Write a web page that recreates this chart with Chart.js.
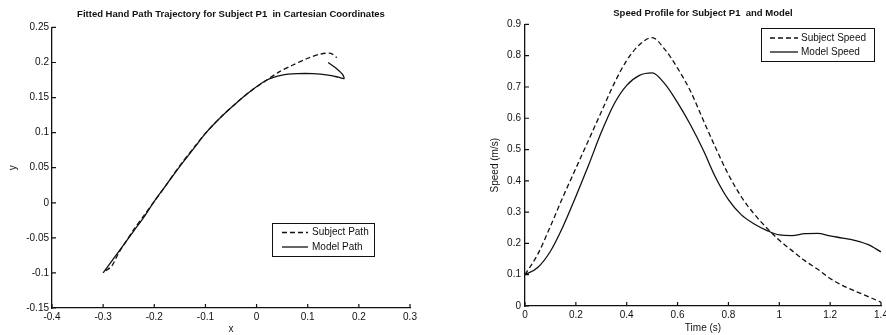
<!DOCTYPE html>
<html>
<head>
<meta charset="utf-8">
<script src="https://cdn.jsdelivr.net/npm/chart.js@4/dist/chart.umd.min.js"></script>
<style>
  html, body { margin: 0; padding: 0; background: #fff; overflow: hidden; }
  body { width: 886px; height: 335px; position: relative; }
  canvas { position: absolute; top: 0; }
  #pathChart { left: 0; }
  #speedChart { left: 443px; }
</style>
</head>
<body>
<canvas id="pathChart" width="443" height="335"></canvas>
<canvas id="speedChart" width="452" height="335"></canvas>
<script>
// hand path (x, y in metres)
const subjectPathX = [-0.295, -0.283, -0.27, -0.255, -0.24, -0.22, -0.2, -0.18, -0.15, -0.12, -0.1, -0.07, -0.04, -0.01, 0.02, 0.045, 0.07, 0.1, 0.125, 0.145, 0.157];
const subjectPathY = [-0.097, -0.09, -0.072, -0.055, -0.038, -0.018, 0.002, 0.022, 0.053, 0.081, 0.099, 0.122, 0.142, 0.16, 0.175, 0.187, 0.196, 0.206, 0.212, 0.213, 0.207];
const modelPathX = [-0.3, -0.28, -0.26, -0.24, -0.22, -0.2, -0.18, -0.15, -0.12, -0.1, -0.07, -0.04, -0.01, 0.02, 0.05, 0.08, 0.11, 0.14, 0.16, 0.171, 0.168, 0.155, 0.14];
const modelPathY = [-0.1, -0.08, -0.06, -0.04, -0.02, 0.002, 0.022, 0.052, 0.08, 0.099, 0.122, 0.142, 0.16, 0.175, 0.182, 0.184, 0.184, 0.182, 0.179, 0.177, 0.183, 0.192, 0.2];

// speed profile
const timeS = [0, 0.05, 0.1, 0.15, 0.2, 0.25, 0.3, 0.35, 0.4, 0.45, 0.5, 0.55, 0.6, 0.65, 0.7,
               0.75, 0.8, 0.85, 0.9, 0.95, 1.0, 1.05, 1.1, 1.15, 1.2, 1.25, 1.3, 1.35, 1.4];
const subjectSpeed = [0.1, 0.165, 0.255, 0.35, 0.44, 0.53, 0.62, 0.71, 0.785, 0.835, 0.858, 0.82, 0.76, 0.688, 0.596,
                      0.505, 0.42, 0.35, 0.295, 0.25, 0.21, 0.177, 0.145, 0.118, 0.088, 0.065, 0.047, 0.03, 0.012];
const modelSpeed = [0.1, 0.123, 0.175, 0.255, 0.35, 0.45, 0.555, 0.645, 0.705, 0.737, 0.745, 0.71, 0.65, 0.58, 0.5,
                    0.41, 0.34, 0.292, 0.263, 0.242, 0.227, 0.225, 0.231, 0.232, 0.224, 0.217, 0.209, 0.196, 0.173];

const pathXTicks = [-0.4, 0.3, 0.1];    // min, max, step
const pathYTicks = [-0.15, 0.25, 0.05];
const speedXTicks = [0, 1.4, 0.2];
const speedYTicks = [0, 0.9, 0.1];

const FONT = "'Liberation Sans', Arial, sans-serif";
const INK = '#111';

function toPoints(xs, ys) {
    return xs.map((x, i) => ({ x: x, y: ys[i] }));
}

function fmt(v) {
    return String(Math.round(v * 100) / 100);
}

// inward tick marks, matlab style
const innerTicks = {
    id: 'innerTicks',
    afterDraw(chart) {
        const ctx = chart.ctx;
        const xs = chart.scales.x, ys = chart.scales.y;
        const a = chart.chartArea;
        ctx.save();
        ctx.strokeStyle = INK;
        ctx.lineWidth = 1.2;
        ctx.beginPath();
        xs.ticks.forEach(t => {
            const px = xs.getPixelForValue(t.value);
            ctx.moveTo(px, a.bottom);
            ctx.lineTo(px, a.bottom - 4);
        });
        ys.ticks.forEach(t => {
            const py = ys.getPixelForValue(t.value);
            ctx.moveTo(a.left, py);
            ctx.lineTo(a.left + 4, py);
        });
        ctx.stroke();
        ctx.restore();
    }
};

// boxed legend inside the plot
const boxLegend = {
    id: 'boxLegend',
    afterDraw(chart, args, opts) {
        const ctx = chart.ctx;
        ctx.save();
        ctx.fillStyle = '#fff';
        ctx.fillRect(opts.x, opts.y, opts.w, opts.h);
        ctx.strokeStyle = INK;
        ctx.lineWidth = 1;
        ctx.strokeRect(opts.x + 0.5, opts.y + 0.5, opts.w, opts.h);
        chart.data.datasets.forEach((ds, i) => {
            const ly = opts.y + opts.rowY[i];
            ctx.beginPath();
            ctx.setLineDash(ds.borderDash || []);
            ctx.lineWidth = ds.borderWidth;
            ctx.strokeStyle = ds.borderColor;
            ctx.moveTo(opts.x + opts.lineX[0], ly);
            ctx.lineTo(opts.x + opts.lineX[1], ly);
            ctx.stroke();
            ctx.setLineDash([]);
            ctx.fillStyle = INK;
            ctx.font = '10px ' + FONT;
            ctx.textBaseline = 'middle';
            ctx.fillText(ds.label, opts.x + opts.textX, ly);
        });
        ctx.restore();
    }
};

function axis(range, title, yAxis, labelPad, titlePad, size) {
    return {
        type: 'linear',
        min: range[0],
        max: range[1],
        grid: { display: false, drawTicks: false },
        border: { display: true, color: INK, width: 1.3 },
        ticks: {
            stepSize: range[2],
            padding: labelPad,
            color: INK,
            font: { family: FONT, size: 10 },
            maxRotation: 0,
            autoSkip: false,
            callback: fmt
        },
        title: {
            display: true,
            text: title,
            color: INK,
            font: { family: FONT, size: 10 },
            padding: titlePad
        },
        afterFit(scale) {
            if (yAxis) scale.width = size; else scale.height = size;
        }
    };
}

function lineSet(label, points, dashed, smooth) {
    return {
        label: label,
        data: points,
        showLine: true,
        borderColor: INK,
        borderWidth: 1.3,
        borderDash: dashed ? [5, 3] : [],
        pointRadius: 0,
        tension: smooth ? 0 : 0.3,
        cubicInterpolationMode: smooth ? 'monotone' : 'default',
        fill: false
    };
}

new Chart(document.getElementById('pathChart').getContext('2d'), {
    type: 'scatter',
    data: {
        datasets: [
            lineSet('Subject Path', toPoints(subjectPathX, subjectPathY), true, false),
            lineSet('Model Path', toPoints(modelPathX, modelPathY), false, false)
        ]
    },
    options: {
        responsive: false,
        animation: false,
        layout: { padding: { left: 0, right: 33, top: 0, bottom: 0 } },
        scales: {
            x: axis(pathXTicks, 'x', false, 3, { top: 0, bottom: 0 }, 27),
            y: axis(pathYTicks, 'y', true, 3, { top: 7, bottom: 0 }, 52)
        },
        plugins: {
            legend: { display: false },
            tooltip: { enabled: false },
            title: {
                display: true,
                fullSize: false,
                text: 'Fitted Hand Path Trajectory for Subject P1  in Cartesian Coordinates',
                color: INK,
                font: { family: FONT, size: 9.5, weight: 'bold' },
                padding: { top: 9, bottom: 7 }
            },
            boxLegend: { x: 272, y: 223, w: 102, h: 33, rowY: [9.5, 24], lineX: [10, 36], textX: 40 }
        }
    },
    plugins: [innerTicks, boxLegend]
});

new Chart(document.getElementById('speedChart').getContext('2d'), {
    type: 'scatter',
    data: {
        datasets: [
            lineSet('Subject Speed', toPoints(timeS, subjectSpeed), true, true),
            lineSet('Model Speed', toPoints(timeS, modelSpeed), false, true)
        ]
    },
    options: {
        responsive: false,
        animation: false,
        layout: { padding: { left: 0, right: 14, top: 0, bottom: 0 } },
        scales: {
            x: axis(speedXTicks, 'Time (s)', false, 3, { top: 0, bottom: 1 }, 29),
            y: axis(speedYTicks, 'Speed (m/s)', true, 4, { top: 46, bottom: 0 }, 82)
        },
        plugins: {
            legend: { display: false },
            tooltip: { enabled: false },
            title: {
                display: true,
                fullSize: false,
                text: 'Speed Profile for Subject P1  and Model',
                color: INK,
                font: { family: FONT, size: 9.5, weight: 'bold' },
                padding: { top: 8, bottom: 5 }
            },
            boxLegend: { x: 318, y: 28, w: 113, h: 33, rowY: [10, 24], lineX: [9, 37], textX: 40 }
        }
    },
    plugins: [innerTicks, boxLegend]
});
</script>
</body>
</html>
